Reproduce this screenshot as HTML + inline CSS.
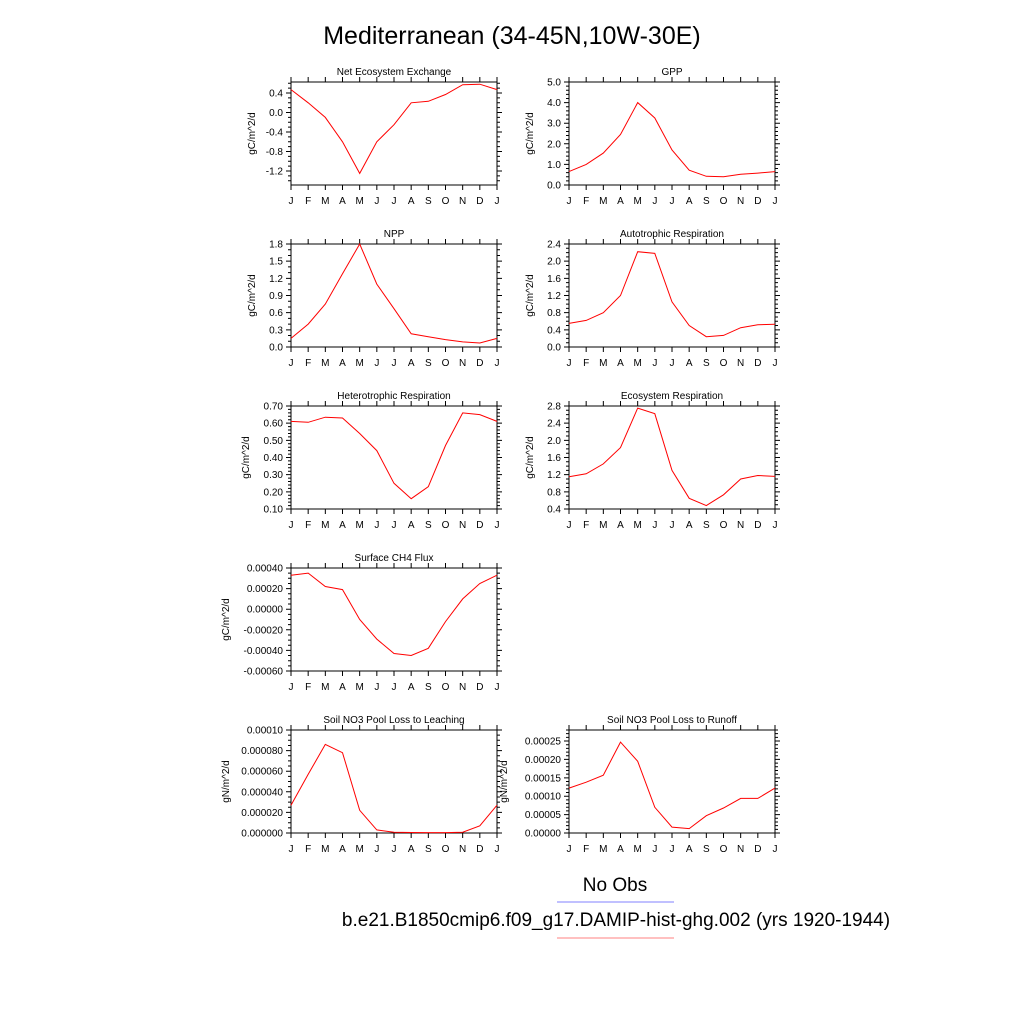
<!DOCTYPE html>
<html><head><meta charset="utf-8"><style>
html,body{margin:0;padding:0;background:#fff;}
svg{display:block;font-family:"Liberation Sans",Arial,sans-serif;}
</style></head><body>
<svg id="chart" width="1024" height="1024" viewBox="0 0 1024 1024">
<text x="512" y="44" font-size="25" text-anchor="middle">Mediterranean (34-45N,10W-30E)</text>
<g id="panels"></g>
<text x="615" y="891" font-size="19" text-anchor="middle">No Obs</text>
<line x1="557" y1="902" x2="674" y2="902" stroke="#8080ff" stroke-width="1"/>
<text x="616" y="926" font-size="19" text-anchor="middle">b.e21.B1850cmip6.f09_g17.DAMIP-hist-ghg.002 (yrs 1920-1944)</text>
<line x1="557" y1="938" x2="674" y2="938" stroke="#ff8080" stroke-width="1"/>
</svg>
<script>
const months = ["J","F","M","A","M","J","J","A","S","O","N","D","J"];
const neeValues = [0.47,0.2,-0.1,-0.6,-1.25,-0.6,-0.25,0.2,0.23,0.37,0.57,0.58,0.47];
const gppValues = [0.65,1.0,1.55,2.45,4.0,3.25,1.7,0.72,0.42,0.4,0.52,0.58,0.65];
const nppValues = [0.15,0.4,0.75,1.28,1.8,1.1,0.67,0.23,0.18,0.13,0.09,0.07,0.15];
const arValues = [0.55,0.62,0.8,1.2,2.22,2.18,1.05,0.5,0.24,0.27,0.45,0.52,0.53];
const hrValues = [0.61,0.605,0.635,0.63,0.54,0.44,0.25,0.16,0.23,0.47,0.66,0.65,0.61];
const erValues = [1.15,1.22,1.45,1.83,2.75,2.62,1.3,0.65,0.48,0.73,1.1,1.18,1.16];
const ch4Values = [0.00033,0.00035,0.00022,0.00019,-0.0001,-0.00029,-0.00043,-0.00045,-0.00038,-0.00012,0.0001,0.00025,0.00033];
const leachValues = [0.000027,0.000057,0.000086,0.000078,0.000022,0.000003,0.0000008,0.0000005,0.0000004,0.0000004,0.0000008,0.000007,0.000027];
const runoffValues = [0.000122,0.000138,0.000157,0.000247,0.000195,0.00007,0.000016,0.000012,0.000047,0.000068,0.000094,0.000094,0.000122];
const neeTicks = ["0.4","0.0","-0.4","-0.8","-1.2"];
const gppTicks = ["0.0","1.0","2.0","3.0","4.0","5.0"];
const nppTicks = ["0.0","0.3","0.6","0.9","1.2","1.5","1.8"];
const arTicks = ["0.0","0.4","0.8","1.2","1.6","2.0","2.4"];
const hrTicks = ["0.10","0.20","0.30","0.40","0.50","0.60","0.70"];
const erTicks = ["0.4","0.8","1.2","1.6","2.0","2.4","2.8"];
const ch4Ticks = ["-0.00060","-0.00040","-0.00020","0.00000","0.00020","0.00040"];
const leachTicks = ["0.000000","0.000020","0.000040","0.000060","0.000080","0.00010"];
const runoffTicks = ["0.00000","0.00005","0.00010","0.00015","0.00020","0.00025"];

const NS="http://www.w3.org/2000/svg";
const root=document.getElementById('panels');
function mk(tag,attrs,parent){const e=document.createElementNS(NS,tag);for(const k in attrs)e.setAttribute(k,attrs[k]);parent.appendChild(e);return e;}

function panel(key,title,unit,x0,y0,ymin,ymax,minor,ticks,vals){
  const w=206,h=103;
  const g=mk('g',{},root);
  
  
  const xs=i=>x0+i*w/12;
  const ys=v=>y0+h-(v-ymin)/(ymax-ymin)*h;
  const t=mk('text',{x:x0+w/2,y:y0-7,'font-size':10,'text-anchor':'middle'},g);
  t.textContent=title;
  
  
  const yl=mk('text',{x:0,y:0,'font-size':10,'text-anchor':'middle',transform:`translate(${x0-(unit.w)},${y0+h/2}) rotate(-90)`},g);
  yl.textContent=unit.t;
  
  
  let d='';
  // x ticks
  for(let i=0;i<13;i++){const x=xs(i);d+=`M${x},${y0+h}v5M${x},${y0}v-5`;
    const lb=mk('text',{x:x,y:y0+h+19,'font-size':10,'text-anchor':'middle'},g);
    lb.textContent=months[i];
    
    }
  // minor y ticks
  const eps=1e-12;
  for(let v=Math.ceil(ymin/minor-eps)*minor;v<=ymax+eps;v+=minor){const y=ys(v);d+=`M${x0},${y}h-3M${x0+w},${y}h3`;}
  ticks.forEach(s=>{const v=parseFloat(s);const y=ys(v);d+=`M${x0},${y}h-5M${x0+w},${y}h5`;
    const lb=mk('text',{x:x0-8,y:y+3.5,'font-size':10,'text-anchor':'end'},g);
    lb.textContent=s;
    
    });
  const tk=mk('path',{d:d,stroke:'#000','stroke-width':1,fill:'none'},g);
  
  
  const fr=mk('rect',{x:x0,y:y0,width:w,height:h,fill:'none',stroke:'#000','stroke-width':1},g);
  
  
  const pts=vals.map((v,i)=>xs(i).toFixed(1)+','+ys(v).toFixed(1)).join(' ');
  const ln=mk('polyline',{points:pts,fill:'none',stroke:'#ff0000','stroke-width':1},g);
  
  
}
const gc={t:'gC/m^2/d',w:36};
panel('nee','Net Ecosystem Exchange',gc,291,82,-1.487,0.626,0.1,neeTicks,neeValues);
panel('gpp','GPP',gc,569,82,0,5,0.2,gppTicks,gppValues);
panel('npp','NPP',gc,291,244,0,1.8,0.1,nppTicks,nppValues);
panel('ar','Autotrophic Respiration',gc,569,244,0,2.4,0.1,arTicks,arValues);
panel('hr','Heterotrophic Respiration',{t:'gC/m^2/d',w:42},291,406,0.1,0.7,0.02,hrTicks,hrValues);
panel('er','Ecosystem Respiration',gc,569,406,0.4,2.8,0.1,erTicks,erValues);
panel('ch4','Surface CH4 Flux',{t:'gC/m^2/d',w:62},291,568,-0.0006,0.0004,0.00005,ch4Ticks,ch4Values);
panel('leach','Soil NO3 Pool Loss to Leaching',{t:'gN/m^2/d',w:62},291,730,0,0.0001,0.000005,leachTicks,leachValues);
panel('runoff','Soil NO3 Pool Loss to Runoff',{t:'gN/m^2/d',w:62},569,730,0,0.00028,0.00001,runoffTicks,runoffValues);
</script>
</body></html>
